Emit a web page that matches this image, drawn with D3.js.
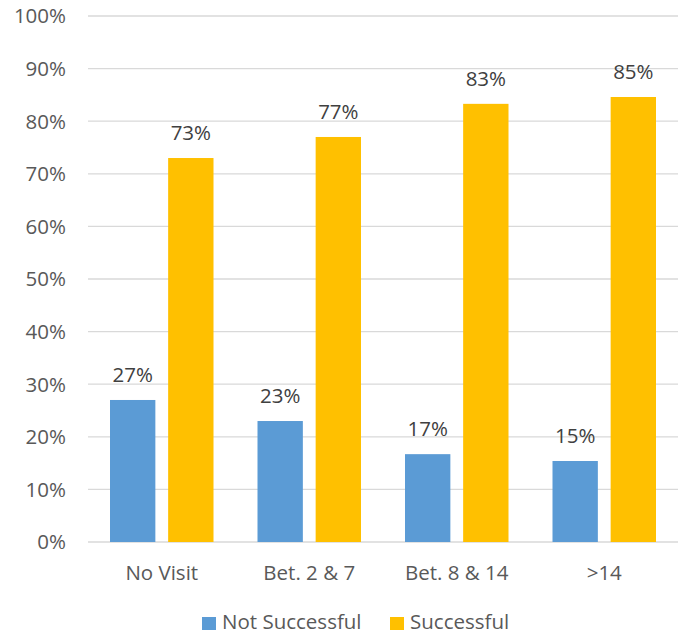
<!DOCTYPE html>
<html>
<head>
<meta charset="utf-8">
<script src="https://cdn.jsdelivr.net/npm/d3@7"></script>
<style>
  body { margin: 0; background: #fff; }
  text { font-family: "Open Sans", sans-serif; fill: #595959; font-size: 20.5px; }
</style>
</head>
<body>
<div id="chart"></div>
<script>
// data
var categories = ["No Visit", "Bet. 2 & 7", "Bet. 8 & 14", ">14"];
var seriesNames = ["Not Successful", "Successful"];
var notSuccessful = [27, 23, 16.7, 15.4];
var successful = [73, 77, 83.3, 84.6];
var yTicks = [0, 10, 20, 30, 40, 50, 60, 70, 80, 90, 100];
var colors = ["#5b9bd5", "#ffc000"];

var margin = {top: 16, right: 6, bottom: 94, left: 88},
    width = 684 - margin.left - margin.right,
    height = 636 - margin.top - margin.bottom;

var svg = d3.select("#chart")
  .append("svg")
    .attr("width", 684)
    .attr("height", 636)
  .append("g")
    .attr("transform", `translate(${margin.left}, ${margin.top})`);

var x = d3.scaleBand()
  .domain(categories)
  .range([0, width])
  .padding(0);

// bars sit 22px in from each side of the category
var x1 = d3.scaleBand()
  .domain(seriesNames)
  .range([22, x.bandwidth() - 22])
  .paddingInner(0.22);

var y = d3.scaleLinear()
  .domain([0, 100])
  .range([height, 0]);

// gridlines
svg.append("g")
  .selectAll("line")
  .data(yTicks)
  .join("line")
    .attr("x1", 0)
    .attr("x2", width)
    .attr("y1", d => y(d))
    .attr("y2", d => y(d))
    .attr("stroke", "#d9d9d9")
    .attr("stroke-width", 1.3);

// y labels
svg.append("g")
  .selectAll("text")
  .data(yTicks)
  .join("text")
    .attr("x", -22)
    .attr("y", d => y(d))
    .attr("dy", "0.36em")
    .attr("text-anchor", "end")
    .text(d => d + "%");

// x labels
svg.append("g")
  .selectAll("text")
  .data(categories)
  .join("text")
    .attr("x", d => x(d) + x.bandwidth() / 2)
    .attr("y", height + 38)
    .attr("text-anchor", "middle")
    .text(d => d);

var rows = categories.map((c, i) => ({cat: c, vals: [notSuccessful[i], successful[i]]}));

var groups = svg.selectAll(".grp")
  .data(rows)
  .join("g")
    .attr("transform", d => `translate(${x(d.cat)},0)`);

groups.selectAll("rect")
  .data(d => d.vals.map((v, j) => ({s: seriesNames[j], v: v, j: j})))
  .join("rect")
    .attr("x", d => x1(d.s))
    .attr("y", d => y(d.v))
    .attr("width", x1.bandwidth())
    .attr("height", d => height - y(d.v))
    .attr("fill", d => colors[d.j]);

groups.selectAll(".lbl")
  .data(d => d.vals.map((v, j) => ({s: seriesNames[j], v: v})))
  .join("text")
    .attr("class", "lbl")
    .attr("x", d => x1(d.s) + x1.bandwidth() / 2)
    .attr("y", d => y(d.v) - 18)
    .attr("text-anchor", "middle")
    .style("fill", "#404040")
    .text(d => Math.round(d.v) + "%");

// legend
var legend = d3.select("svg").append("g");
var lx = [202, 390];
seriesNames.forEach(function(s, i) {
  legend.append("rect")
    .attr("x", lx[i])
    .attr("y", 617)
    .attr("width", 14)
    .attr("height", 13)
    .attr("fill", colors[i]);
  legend.append("text")
    .attr("x", lx[i] + 20)
    .attr("y", 629)
    .text(s);
});
</script>
</body>
</html>
